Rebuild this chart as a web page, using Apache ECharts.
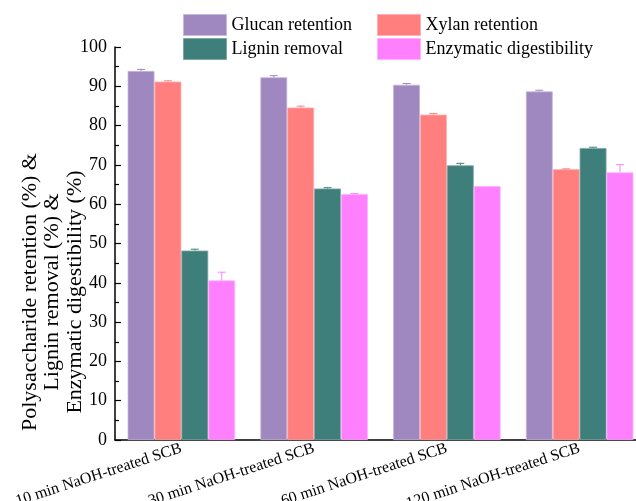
<!DOCTYPE html>
<html>
<head>
<meta charset="utf-8">
<script src="https://cdn.jsdelivr.net/npm/echarts@6/dist/echarts.min.js"></script>
<style>
  html, body { margin: 0; padding: 0; background: #fff; overflow: hidden; }
  #chart { width: 636px; height: 501px; }
</style>
</head>
<body>
<div id="chart"></div>
<script>
// categories and values
var categories = ["10 min NaOH-treated SCB", "30 min NaOH-treated SCB", "60 min NaOH-treated SCB", "120 min NaOH-treated SCB"];
var seriesNames = ["Glucan retention", "Xylan retention", "Lignin removal", "Enzymatic digestibility"];
var glucan = [93.9, 92.3, 90.4, 88.7];
var xylan = [91.2, 84.6, 82.8, 68.9];
var lignin = [48.2, 64.0, 69.9, 74.3];
var enzymatic = [40.6, 62.6, 64.6, 68.1];
// standard deviations (error bars)
var glucanErr = [0.4, 0.4, 0.3, 0.3];
var xylanErr = [0.2, 0.35, 0.3, 0.1];
var ligninErr = [0.35, 0.2, 0.5, 0.2];
var enzymaticErr = [2.1, 0.1, 0, 1.95];
var yTicks = [0, 10, 20, 30, 40, 50, 60, 70, 80, 90, 100];
var yTitle = ["Polysaccharide retention (%) &", "Lignin removal (%) &", "Enzymatic digestibility (%)"];

var colors = ["#9F88BF", "#FF7F7F", "#3F7F7B", "#FF80FF"];
var borders = ["#C9B8DD", "#FFB0B0", "#7FA8A5", "#FFB3FF"];
var values = [glucan, xylan, lignin, enzymatic];
var errors = [glucanErr, xylanErr, ligninErr, enzymaticErr];
var gapRatio = 0.19;
var font = "'Liberation Serif', 'Times New Roman', serif";

var chart = echarts.init(document.getElementById("chart"));

var series = [];
seriesNames.forEach(function (name, i) {
  series.push({
    name: name,
    type: "bar",
    barGap: "0%",
    barCategoryGap: gapRatio * 100 + "%",
    itemStyle: { color: colors[i], borderColor: borders[i], borderWidth: 0.8 },
    data: values[i],
    z: 2,
  });
});
// error bars (upper half, bar hides the lower half)
seriesNames.forEach(function (name, i) {
  series.push({
    type: "custom",
    name: name + " err",
    z: 3,
    silent: true,
    data: values[i].map(function (v, k) {
      return [k, v, errors[i][k]];
    }),
    renderItem: function (params, api) {
      var k = api.value(0);
      var v = api.value(1);
      var e = api.value(2);
      if (!e) return;
      var band = api.size([1, 0])[0];
      var barW = (band * (1 - gapRatio)) / 4;
      var base = api.coord([k, v]);
      var top = api.coord([k, v + e]);
      var x = base[0] + (i - 1.5) * barW;
      var cap = 4;
      var st = { stroke: colors[i], lineWidth: 1 };
      return {
        type: "group",
        children: [
          { type: "line", shape: { x1: x, y1: base[1], x2: x, y2: top[1] }, style: st },
          { type: "line", shape: { x1: x - cap, y1: top[1], x2: x + cap, y2: top[1] }, style: st },
        ],
      };
    },
  });
});

function legendItem(idx, left, top) {
  return {
    data: [seriesNames[idx]],
    left: left,
    top: top,
    itemWidth: 43,
    itemHeight: 21,
    itemGap: 0,
    padding: 0,
    icon: "rect",
    textStyle: { fontFamily: font, fontSize: 18, color: "#000" },
    itemStyle: { borderColor: borders[idx], borderWidth: 1 },
    selectedMode: false,
  };
}

var option = {
  backgroundColor: "#fff",
  animation: false,
  legend: [
    legendItem(0, 183, 14),
    legendItem(1, 377, 14),
    legendItem(2, 183, 38),
    legendItem(3, 377, 38),
  ],
  grid: { left: 115, right: -10, top: 47, bottom: 61, containLabel: false, outerBoundsMode: "none" },
  xAxis: {
    type: "category",
    data: categories,
    axisLine: { lineStyle: { color: "#000", width: 1.5 } },
    axisTick: { show: false },
    axisLabel: { color: "#000", fontFamily: font, fontSize: 16, rotate: 18, margin: 8, interval: 0 },
  },
  yAxis: {
    type: "value",
    min: yTicks[0],
    max: yTicks[yTicks.length - 1],
    interval: 10,
    axisLine: { show: true, lineStyle: { color: "#000", width: 1.5 } },
    axisTick: { show: true, inside: true, length: 6, lineStyle: { color: "#000", width: 1.2 } },
    minorTick: { show: true, splitNumber: 2, length: 4, lineStyle: { color: "#000", width: 1.2 } },
    splitLine: { show: false },
    axisLabel: { color: "#000", fontFamily: font, fontSize: 18, margin: 8 },
  },
  graphic: yTitle.map(function (line, j) {
    return {
      type: "text",
      x: 30 + j * 22.5,
      y: 292,
      rotation: Math.PI / 2,
      style: {
        text: line,
        fontFamily: font,
        fontSize: 22,
        fill: "#000",
        align: "center",
        verticalAlign: "middle",
      },
    };
  }),
  series: series,
};

chart.setOption(option);
</script>
</body>
</html>
